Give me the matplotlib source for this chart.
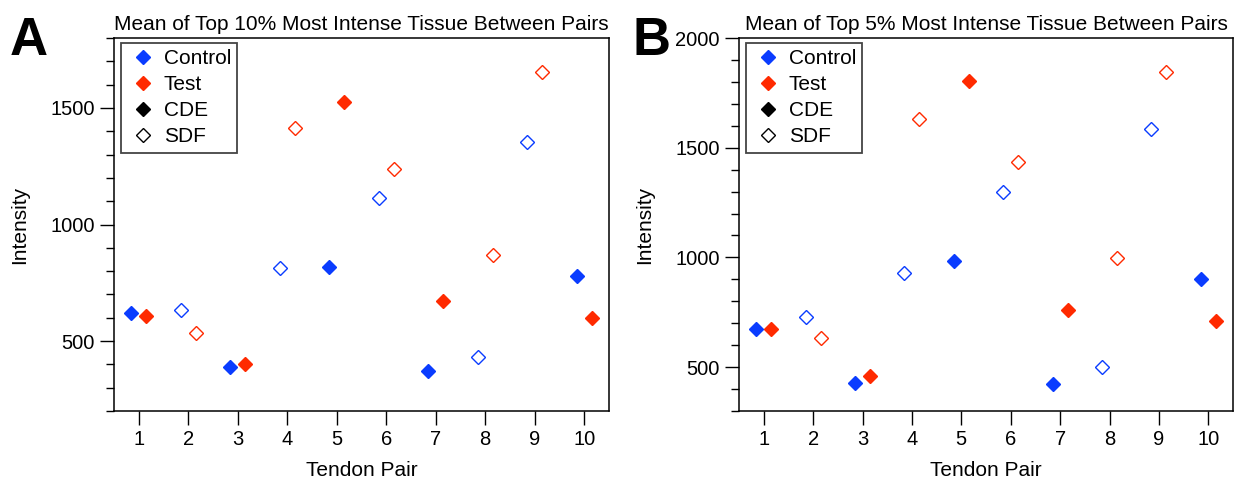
import matplotlib
matplotlib.use("Agg")
import matplotlib.pyplot as plt
from matplotlib.lines import Line2D
import numpy as np

plt.rcParams['font.family'] = ['Liberation Sans', 'DejaVu Sans']

pairs = [1, 2, 3, 4, 5, 6, 7, 8, 9, 10]
# True = CDE (filled), False = SDF (open)
is_cde = [True, False, True, False, True, False, True, False, False, True]

# Panel A: mean of top 10%
a_control = [621, 632, 389, 815, 818, 1114, 372, 432, 1356, 778]
a_test = [608, 536, 400, 1415, 1524, 1240, 671, 871, 1655, 601]

# Panel B: mean of top 5%
b_control = [675, 729, 428, 927, 985, 1297, 421, 500, 1587, 901]
b_test = [672, 633, 459, 1632, 1806, 1434, 759, 998, 1846, 710]

titles = ["Mean of Top 10% Most Intense Tissue Between Pairs",
          "Mean of Top 5% Most Intense Tissue Between Pairs"]
ylims = [(200, 1800), (300, 2000)]
letters = ["A", "B"]

BLUE = '#0a3cff'
RED = '#ff2a00'
OFF = 0.15

W, H = 1235, 479
fig = plt.figure(figsize=(W / 100, H / 100), dpi=100)

axes_px = [(114, 609), (739, 1233)]
top_px, bot_px = 38, 411

datasets = [(a_control, a_test), (b_control, b_test)]

for i, (ctrl, test) in enumerate(datasets):
    l, r = axes_px[i]
    ax = fig.add_axes([l / W, 1 - bot_px / H, (r - l) / W, (bot_px - top_px) / H])
    for k, p in enumerate(pairs):
        for val, col, dx in ((ctrl[k], BLUE, -OFF), (test[k], RED, OFF)):
            if is_cde[k]:
                ax.plot(p + dx, val, marker='D', ms=7, color=col, mec=col, mew=1, ls='none')
            else:
                ax.plot(p + dx, val, marker='D', ms=7.3, mfc='none', mec=col, mew=1, ls='none')
    ax.set_xlim(0.5, 10.5)
    ax.set_ylim(*ylims[i])
    ax.set_xticks(pairs)
    ax.set_yticks(np.arange(500, ylims[i][1] + 1, 500))
    ax.set_yticks(np.arange(ylims[i][0], ylims[i][1] + 1, 100), minor=True)
    ax.tick_params(axis='both', which='major', direction='out', length=10, width=1,
                   labelsize=14.5, pad=4)
    ax.tick_params(axis='y', which='minor', direction='out', length=6, width=1)
    for s in ax.spines.values():
        s.set_linewidth(1.1)
    ax.set_title(titles[i], fontsize=15, pad=6)
    ax.set_xlabel("Tendon Pair", fontsize=15, labelpad=8)
    ax.set_ylabel("Intensity", fontsize=15, labelpad=15)

    handles = [
        Line2D([], [], marker='D', ms=7, color=BLUE, ls='none'),
        Line2D([], [], marker='D', ms=7, color=RED, ls='none'),
        Line2D([], [], marker='D', ms=7, color='black', ls='none'),
        Line2D([], [], marker='D', ms=7.3, mfc='none', mec='black', mew=1, ls='none'),
    ]
    leg = ax.legend(handles, ["Control", "Test", "CDE", "SDF"], loc='upper left',
                    bbox_to_anchor=(7 / (r - l), 1 - 5 / (bot_px - top_px)),
                    borderaxespad=0, fontsize=15, frameon=True, fancybox=False,
                    handlelength=1.5, handletextpad=0.25, labelspacing=0.34,
                    borderpad=0.3, framealpha=1)
    leg.get_frame().set_edgecolor('#444444')
    leg.get_frame().set_linewidth(1.3)

fig.text(10 / W, 1 - 55 / H, "A", fontsize=38, fontweight='bold', va='baseline', ha='left')
fig.text(633 / W, 1 - 55 / H, "B", fontsize=38, fontweight='bold', va='baseline', ha='left')

fig.savefig("out.png", dpi=100)
